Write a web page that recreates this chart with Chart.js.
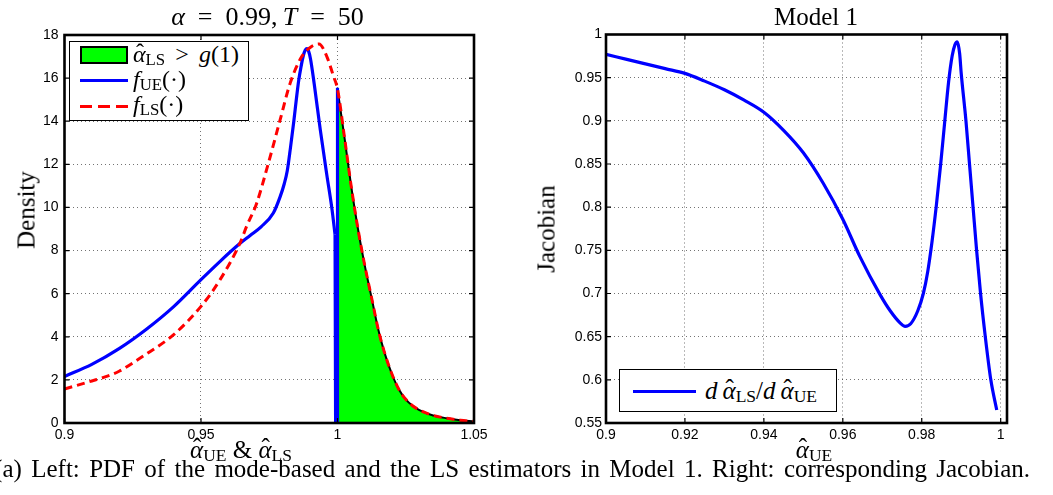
<!DOCTYPE html>
<html><head><meta charset="utf-8">
<script src="https://cdn.jsdelivr.net/npm/chart.js@4.4.0/dist/chart.umd.min.js"></script>
<style>
html,body{margin:0;padding:0;background:#fff;width:1053px;height:495px;overflow:hidden;position:relative;}
canvas{position:absolute;top:0;}
.t{position:absolute;white-space:nowrap;font-family:"Liberation Serif","Times New Roman",serif;color:#000;line-height:1;}
.sub{font-style:normal;font-size:0.7em;position:relative;top:0.16em;}
.it{font-style:italic;}
.hat{position:relative;display:inline-block;font-style:italic;}
.hat::after{content:'\02C6';position:absolute;left:0.12em;top:-0.08em;font-style:normal;}
.sp2{display:inline-block;width:0.42em;}
.sp3{display:inline-block;width:0.5em;}
.th{display:inline-block;width:0.2em;}
.leg{position:absolute;border:1.5px solid #000;background:#fff;box-sizing:border-box;}
.sw{position:absolute;}
.rot{transform:translate(-50%,-50%) rotate(-90deg);}
</style></head>
<body>
<canvas id="c1" width="500" height="460" style="left:0px;width:500px;height:460px"></canvas>
<canvas id="c2" width="533" height="460" style="left:520px;width:533px;height:460px"></canvas>

<div class="t" id="title1" style="left:117.5px;width:300px;text-align:center;top:4px;font-size:26px;"><span class="it">α</span><span class="sp3"></span>=<span class="sp3"></span>0.99,<span class="th"></span><span class="it">T</span><span class="sp3"></span>=<span class="sp3"></span>50</div>
<div class="t" style="left:666px;width:300px;text-align:center;top:4px;font-size:25px;">Model 1</div>

<div class="t rot" style="left:26px;top:210px;font-size:25px;">Density</div>
<div class="t rot" style="left:545.6px;top:229px;font-size:25px;">Jacobian</div>

<div class="t" style="left:91px;width:300px;text-align:center;top:437px;font-size:25px;"><span class="hat">α</span><span class="sub">UE</span> &amp; <span class="hat">α</span><span class="sub">LS</span></div>
<div class="t" style="left:664px;width:300px;text-align:center;top:437px;font-size:25px;"><span class="hat">α</span><span class="sub">UE</span></div>

<div class="t" style="right:23px;top:456px;font-size:25px;word-spacing:3.1px;">(a) Left: PDF of the mode-based and the LS estimators in Model 1. Right: corresponding Jacobian.</div>

<div class="leg" style="left:69px;top:41px;width:180px;height:80px;"></div>
<div class="sw" style="left:80px;top:46px;width:48px;height:18px;background:#00ff00;border:2px solid #000;box-sizing:border-box;"></div>
<div class="sw" style="left:80px;top:78.5px;width:48px;height:3px;background:#0000ff;"></div>
<div class="sw" style="left:80px;top:104.5px;width:48px;height:3px;background:repeating-linear-gradient(to right,#ff0000 0 12px,transparent 12px 18px);"></div>
<div class="t" style="left:133px;top:42px;font-size:24px;"><span class="hat">α</span><span class="sub">LS</span><span class="sp2"></span>&gt;<span class="sp2"></span><span class="it">g</span>(1)</div>
<div class="t" style="left:133px;top:67px;font-size:24px;"><span class="it">f</span><span class="sub">UE</span>(·)</div>
<div class="t" style="left:133px;top:92px;font-size:24px;"><span class="it">f</span><span class="sub">LS</span>(·)</div>

<div class="leg" style="left:619px;top:369px;width:218px;height:43px;"></div>
<div class="sw" style="left:633px;top:389.5px;width:63px;height:3px;background:#0000ff;"></div>
<div class="t" style="left:705px;top:378px;font-size:25px;"><span class="it">d</span><span class="th"></span><span class="hat">α</span><span class="sub">LS</span>/<span class="it">d</span><span class="th"></span><span class="hat">α</span><span class="sub">UE</span></div>

<script>
// ---------- data ----------
// f_UE: smooth part, then the jump at alpha = 1
const ueX = [0.900,0.910,0.920,0.930,0.940,0.950,0.957,0.964,0.968,0.972,0.9765,0.9790,0.9805,0.9816,0.9828,0.9840,0.9850,0.9858,0.9866,0.9875,0.9882,0.9888,0.9894,0.9901,0.9915,0.9937,0.9961,0.9980,0.9991];
const ueY = [2.16,2.72,3.45,4.35,5.40,6.65,7.50,8.30,8.70,9.10,9.74,10.5,11.1,11.7,12.8,14.0,15.1,15.9,16.5,17.05,17.3,17.37,17.25,16.9,15.7,13.6,11.5,9.9,8.74];
const ueJumpX = [0.9991,0.9993,1.0,1.0];
const ueJumpY = [8.74,0,0,15.55];

const lsX = [0.900,0.910,0.9154,0.920,0.9276,0.930,0.940,0.950,0.957,0.9643,0.9667,0.9704,0.9747,0.9790,0.9827,0.9869,0.9905,0.9932,0.9961,0.9985,1.000,1.0025,1.005,1.0075,1.010,1.0125,1.015,1.0175,1.020,1.0225,1.025,1.0275,1.030,1.035,1.040,1.045,1.050];
const lsY = [1.58,1.95,2.16,2.40,3.00,3.20,4.10,5.41,6.65,8.35,9.12,10.2,12.06,14.07,15.78,17.0,17.47,17.58,17.0,16.1,15.5,13.3,11.0,9.0,7.3,5.8,4.3,3.15,2.25,1.55,1.10,0.80,0.60,0.35,0.22,0.13,0.07];

const g1 = 1.0; // shaded region: alpha_LS > g(1)

const jacX = [0.900,0.905,0.910,0.915,0.920,0.925,0.930,0.935,0.940,0.945,0.950,0.955,0.960,0.9643,0.9694,0.9720,0.9745,0.9758,0.9772,0.9790,0.9804,0.9815,0.9826,0.9837,0.9848,0.9858,0.9868,0.9877,0.9884,0.9890,0.9896,0.9900,0.9912,0.9921,0.9930,0.9939,0.9949,0.9961,0.9975,0.9990];
const jacY = [0.977,0.9715,0.966,0.9605,0.955,0.946,0.936,0.924,0.910,0.889,0.863,0.828,0.786,0.743,0.699,0.680,0.666,0.662,0.665,0.680,0.700,0.725,0.760,0.802,0.850,0.898,0.945,0.975,0.988,0.9915,0.978,0.955,0.900,0.850,0.800,0.750,0.700,0.650,0.600,0.565];

const leftXTicks = [0.9,0.95,1,1.05];
const leftXLabels = ['0.9','0.95','1','1.05'];
const leftYTicks = [0,2,4,6,8,10,12,14,16,18];
const leftYLabels = ['0','2','4','6','8','10','12','14','16','18'];
const rightXTicks = [0.9,0.92,0.94,0.96,0.98,1];
const rightXLabels = ['0.9','0.92','0.94','0.96','0.98','1'];
const rightYTicks = [0.55,0.6,0.65,0.7,0.75,0.8,0.85,0.9,0.95,1];
const rightYLabels = ['0.55','0.6','0.65','0.7','0.75','0.8','0.85','0.9','0.95','1'];

// ---------- helpers ----------
const pts = (xs, ys) => xs.map((x, i) => ({x, y: ys[i]}));
const tickFont = {family: '"Liberation Sans", Arial, sans-serif', size: 14};

const framePlugin = {
  id: 'frame',
  afterDraw(chart) {
    const {ctx, chartArea: a, scales} = chart;
    ctx.save();
    ctx.strokeStyle = '#000';
    ctx.lineWidth = 1.2;
    const L = 5;
    ctx.beginPath();
    scales.x.ticks.forEach(t => {
      const px = scales.x.getPixelForValue(t.value);
      ctx.moveTo(px, a.bottom); ctx.lineTo(px, a.bottom - L);
      ctx.moveTo(px, a.top); ctx.lineTo(px, a.top + L);
    });
    scales.y.ticks.forEach(t => {
      const py = scales.y.getPixelForValue(t.value);
      ctx.moveTo(a.left, py); ctx.lineTo(a.left + L, py);
      ctx.moveTo(a.right, py); ctx.lineTo(a.right - L, py);
    });
    ctx.stroke();
    ctx.lineWidth = 2.6;
    ctx.strokeRect(a.left, a.top, a.right - a.left, a.bottom - a.top);
    ctx.restore();
  }
};

function axis(min, max, ticks, labels, isX, size, pad) {
  return {
    type: 'linear', min, max,
    afterBuildTicks: s => { s.ticks = ticks.map(v => ({value: v})); },
    afterFit: s => { if (isX) s.height = size; else s.width = size; },
    grid: {color: 'rgba(0,0,0,0.55)', lineWidth: 1, drawTicks: false},
    border: {display: false, dash: [1, 3]},
    ticks: {
      padding: pad, color: '#000', font: tickFont, maxRotation: 0, autoSkip: false,
      callback: (v, i) => labels[i]
    }
  };
}

const common = {
  responsive: false, animation: false, devicePixelRatio: 1,
  plugins: {legend: {display: false}, tooltip: {enabled: false}},
  elements: {point: {radius: 0}}
};

// ---------- left chart: densities ----------
new Chart(document.getElementById('c1'), {
  type: 'scatter',
  data: {
    datasets: [
      {label: 'f_LS', data: pts(lsX, lsY), showLine: true, borderColor: '#ff0000', borderWidth: 3, borderDash: [8, 5], cubicInterpolationMode: 'monotone', fill: false, order: 0},
      {label: 'f_UE', data: pts(ueX, ueY), showLine: true, borderColor: '#0000ff', borderWidth: 3.2, cubicInterpolationMode: 'monotone', fill: false, order: 1},
      {label: 'f_UE jump', data: pts(ueJumpX, ueJumpY), showLine: true, borderColor: '#0000ff', borderWidth: 3.2, tension: 0, fill: false, order: 1},
      {label: 'alpha_LS > g(1)', data: pts(lsX, lsY).filter(p => p.x >= g1), showLine: true, borderColor: '#000', borderWidth: 2, backgroundColor: '#00ff00', cubicInterpolationMode: 'monotone', fill: 'origin', order: 2}
    ]
  },
  options: Object.assign({}, common, {
    layout: {padding: {left: 0, top: 35, right: 26, bottom: 15}},
    scales: {
      x: axis(0.9, 1.05, leftXTicks, leftXLabels, true, 22, 4),
      y: axis(0, 18, leftYTicks, leftYLabels, false, 64.5, 6)
    }
  }),
  plugins: [framePlugin]
});

// ---------- right chart: Jacobian ----------
new Chart(document.getElementById('c2'), {
  type: 'scatter',
  data: {
    datasets: [
      {label: 'Jacobian', data: pts(jacX, jacY), showLine: true, borderColor: '#0000ff', borderWidth: 3.2, cubicInterpolationMode: 'monotone', fill: false}
    ]
  },
  options: Object.assign({}, common, {
    layout: {padding: {left: 0, top: 34.5, right: 46, bottom: 15}},
    scales: {
      x: axis(0.9, 1.0016, rightXTicks, rightXLabels, true, 22, 4),
      y: axis(0.55, 1, rightYTicks, rightYLabels, false, 86, 4)
    }
  }),
  plugins: [framePlugin]
});
</script>
</body></html>
